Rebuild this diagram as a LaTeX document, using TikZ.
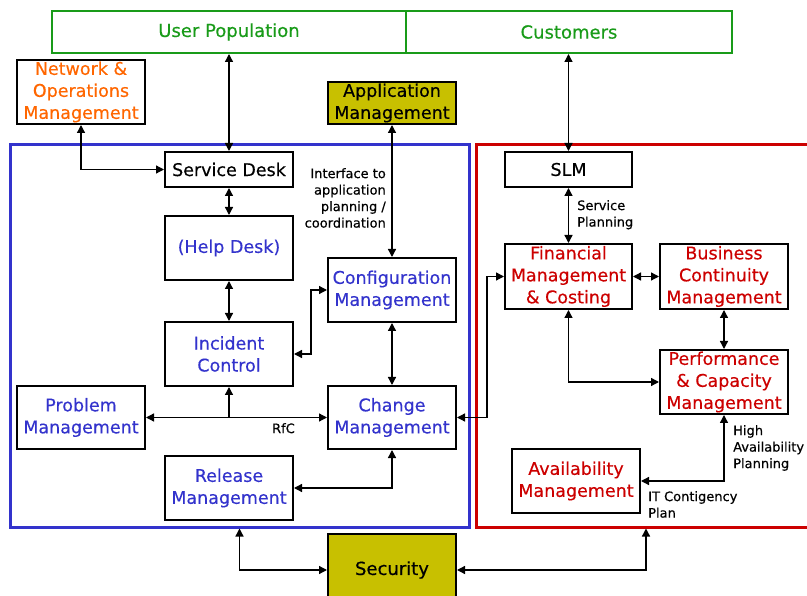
\documentclass[tikz,border=0pt]{standalone}
\usepackage{fontspec}
\setmainfont{DejaVu Sans}[FakeBold=0.4]
\usetikzlibrary{arrows.meta}
\definecolor{popgreen}{RGB}{25,155,25}
\definecolor{opsorange}{RGB}{255,102,0}
\definecolor{itblue}{RGB}{51,51,204}
\definecolor{svcred}{RGB}{204,0,0}
\definecolor{olivebox}{RGB}{200,192,0}
\tikzset{
    unit/.style={draw=black,line width=2pt,align=center,inner sep=0pt,minimum width=128pt,minimum height=64pt,font=\fontsize{17.5}{22}\selectfont},
    topbox/.style={draw=popgreen,line width=2pt,text=popgreen,inner sep=0pt,minimum height=42pt,font=\fontsize{18}{22}\selectfont},
    frame/.style={line width=3pt,inner sep=0pt,minimum width=#1,minimum height=382pt},
    note/.style={align=left,inner sep=0pt,font=\fontsize{13}{16.5}\selectfont},
    link/.style={<->,line width=1.3pt}
}
\begin{document}
\begin{tikzpicture}[x=1pt,y=-1pt,>={Triangle[length=8pt,width=8pt]}]
        \useasboundingbox (0,0) rectangle (807,596);
        \node[frame=459pt,draw=itblue] (itsupport) at (239.5,336) {};
        \node[frame=340pt,draw=svcred] (delivery) at (646,336) {};
        \node[topbox,minimum width=354pt] (userpop) at (229,32) {User Population};
        \node[topbox,minimum width=326pt] (customers) at (569,32) {Customers};
        \node[unit,text=opsorange] (netops) at (81,92) {Network \&\\Operations\\Management};
        \node[unit,fill=olivebox,minimum height=42pt] (appmgmt) at (392,103) {Application\\Management};
        \node[unit,minimum height=35pt] (sdesk) at (229,169.5) {Service Desk};
        \node[unit,text=itblue] (helpdesk) at (229,248) {(Help Desk)};
        \node[unit,text=itblue] (config) at (392,290) {Configuration\\Management};
        \node[unit,text=itblue] (incident) at (229,354) {Incident\\Control};
        \node[unit,text=itblue,minimum height=63pt] (problem) at (81,417.5) {Problem\\Management};
        \node[unit,text=itblue,minimum height=63pt] (change) at (392,417.5) {Change\\Management};
        \node[unit,text=itblue] (release) at (229,488) {Release\\Management};
        \node[unit,fill=olivebox,minimum height=72pt,font=\fontsize{18}{22}\selectfont] (security) at (392,570) {Security};
        \node[unit,minimum width=127pt,minimum height=35pt] (slm) at (568.5,169.5) {SLM};
        \node[unit,text=svcred,minimum width=127pt,minimum height=65pt] (fin) at (568.5,276.5) {Financial\\Management\\\& Costing};
        \node[unit,text=svcred,minimum height=65pt] (bcm) at (724,276.5) {Business\\Continuity\\Management};
        \node[unit,text=svcred] (perf) at (724,382) {Performance\\\& Capacity\\Management};
        \node[unit,text=svcred] (avail) at (576,481) {Availability\\Management};
        \node[note,align=right,anchor=north east] (ifnote) at (386,168) {Interface to\\application\\planning /\\coordination};
        \node[note,anchor=north west] (spnote) at (577,200) {Service\\Planning};
        \node[note,anchor=north east] (rfc) at (295,423) {RfC};
        \node[note,anchor=north west] (hanote) at (733,425) {High\\Availability\\Planning};
        \node[note,anchor=north west] (itcnote) at (648,491) {IT Contigency\\Plan};
        \draw[link] (sdesk.north |- userpop.south) -- (sdesk.north);
        \draw[link] (slm.north |- customers.south) -- (slm.north);
        \draw[link] (netops.south) |- (sdesk.west);
        \draw[link] (appmgmt.south) -- (config.north);
        \draw[link] (sdesk.south) -- (helpdesk.north);
        \draw[link] (helpdesk.south) -- (incident.north);
        \draw[link] (incident.east) -- ++(17,0) |- (config.west);
        \draw[link] (config.south) -- (change.north);
        \draw[link] (problem.east) -- (change.west);
        \draw[<-,line width=1.3pt] (incident.south) -- (incident.south |- problem.east);
        \draw[link] (release.east) -| (change.south);
        \draw[link] (change.east) -- ++(30,0) |- (fin.west);
        \draw[link] (slm.south) -- (fin.north);
        \draw[link] (fin.east) -- (bcm.west);
        \draw[link] (bcm.south) -- (perf.north);
        \draw[link] (fin.south) |- (perf.west);
        \draw[link] (avail.east) -| (perf.south);
        \draw[link] (security.west) -| (itsupport.south);
        \draw[link] (security.east) -| (delivery.south);
\end{tikzpicture}
\end{document}
